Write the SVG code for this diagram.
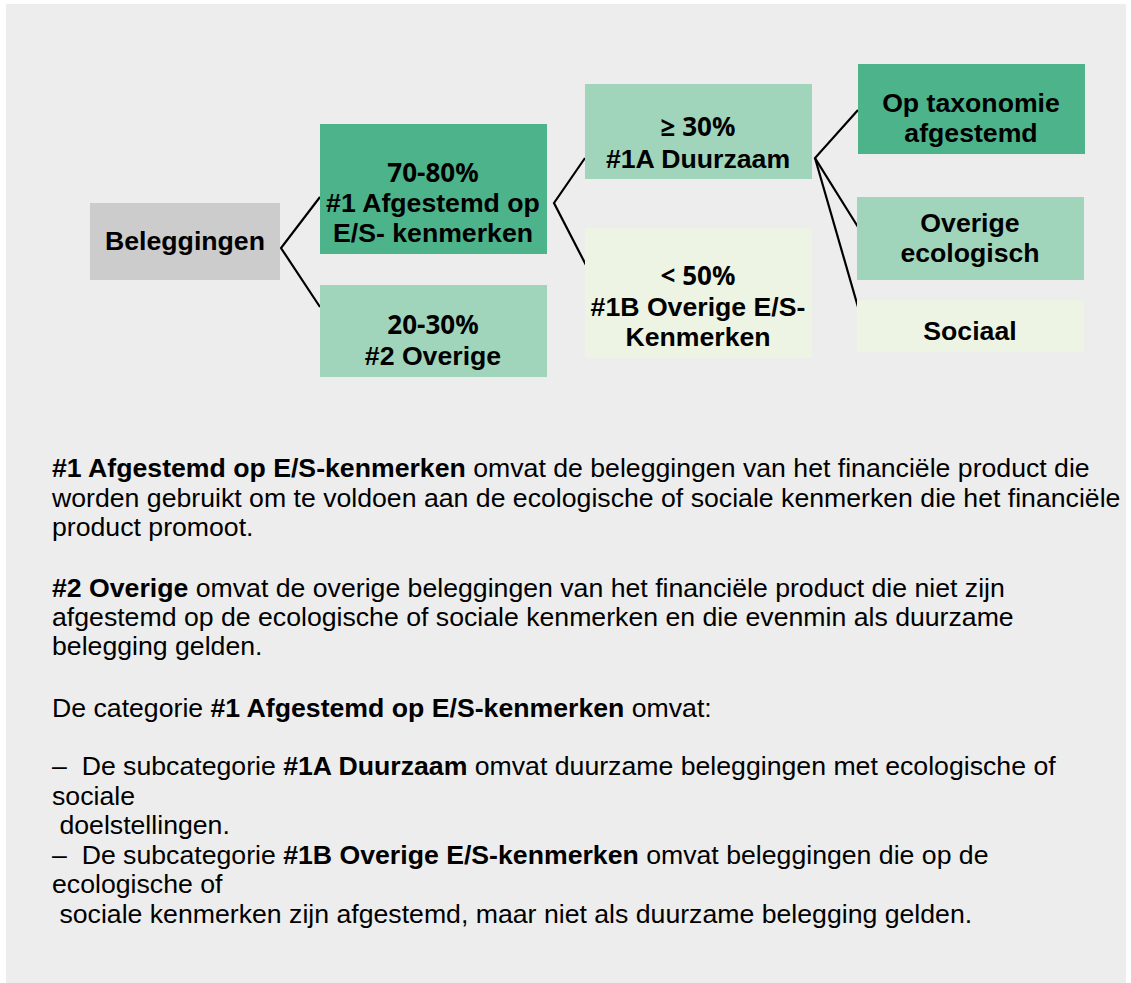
<svg xmlns="http://www.w3.org/2000/svg" width="1131" height="983" viewBox="0 0 1131 983">
<style>
.bx{font-family:"Liberation Sans",Arial,sans-serif;font-weight:bold;font-size:26.67px;fill:#000;text-anchor:middle}
.pc{font-family:"Noto Sans","Open Sans",sans-serif;font-weight:bold;font-size:26px;fill:#000;text-anchor:middle}
.tx{font-family:"Liberation Sans",Arial,sans-serif;font-size:26.67px;fill:#000;white-space:pre}
.b{font-weight:bold}
.dk{fill:#4cb38a}
.md{fill:#a0d5bb}
.lt{fill:#edf4e4}
.cn{stroke:#000;stroke-width:2.2;fill:none;stroke-linejoin:miter}
</style>
<rect x="6" y="4" width="1120" height="979" fill="#ededed"/>
<g id="connectors">
<polyline class="cn" points="320,197 281,248 320,307"/>
<polyline class="cn" points="585,158 554,203 587,267"/>
<polyline class="cn" points="858,110 815,158 858,227"/>
<line class="cn" x1="815" y1="158" x2="858" y2="307"/>
</g>
<g id="beleggingen">
<rect x="90" y="203" width="190" height="77" fill="#cccccc"/>
<text class="bx" x="185" y="250">Beleggingen</text>
</g>
<g id="afgestemd">
<rect class="dk" x="320" y="124" width="227" height="130"/>
<text class="pc" x="433" y="182">70-80%</text>
<text class="bx" x="433" y="212">#1 Afgestemd op</text>
<text class="bx" x="433" y="242">E/S- kenmerken</text>
</g>
<g id="overige">
<rect class="md" x="320" y="285" width="227" height="92"/>
<text class="pc" x="433" y="334">20-30%</text>
<text class="bx" x="433" y="365">#2 Overige</text>
</g>
<g id="duurzaam">
<rect class="md" x="585" y="84" width="227" height="95"/>
<text class="pc" x="698" y="136">≥ 30%</text>
<text class="bx" x="698" y="168">#1A Duurzaam</text>
</g>
<g id="overige-es">
<rect class="lt" x="585" y="228" width="227" height="130"/>
<text class="pc" x="698" y="285">&lt; 50%</text>
<text class="bx" x="698" y="316">#1B Overige E/S-</text>
<text class="bx" x="698" y="346">Kenmerken</text>
</g>
<g id="taxonomie">
<rect class="dk" x="858" y="64" width="227" height="90"/>
<text class="bx" x="971" y="112">Op taxonomie</text>
<text class="bx" x="971" y="142">afgestemd</text>
</g>
<g id="ecologisch">
<rect class="md" x="857" y="197" width="227" height="83"/>
<text class="bx" x="970" y="232">Overige</text>
<text class="bx" x="970" y="262">ecologisch</text>
</g>
<g id="sociaal">
<rect class="lt" x="857" y="300" width="227" height="52"/>
<text class="bx" x="970" y="340">Sociaal</text>
</g>
<g id="uitleg">
<text class="tx" x="52" y="477"><tspan class="b">#1 Afgestemd op E/S-kenmerken</tspan> omvat de beleggingen van het financiële product die</text>
<text class="tx" x="52" y="507">worden gebruikt om te voldoen aan de ecologische of sociale kenmerken die het financiële</text>
<text class="tx" x="52" y="536">product promoot.</text>
<text class="tx" x="52" y="597"><tspan class="b">#2 Overige</tspan> omvat de overige beleggingen van het financiële product die niet zijn</text>
<text class="tx" x="52" y="626">afgestemd op de ecologische of sociale kenmerken en die evenmin als duurzame</text>
<text class="tx" x="52" y="655">belegging gelden.</text>
<text class="tx" x="52" y="717">De categorie <tspan class="b">#1 Afgestemd op E/S-kenmerken</tspan> omvat:</text>
<text class="tx" x="52" y="775">–  De subcategorie <tspan class="b">#1A Duurzaam</tspan> omvat duurzame beleggingen met ecologische of</text>
<text class="tx" x="52" y="805">sociale</text>
<text class="tx" x="52" y="834"> doelstellingen.</text>
<text class="tx" x="52" y="864">–  De subcategorie <tspan class="b">#1B Overige E/S-kenmerken</tspan> omvat beleggingen die op de</text>
<text class="tx" x="52" y="893">ecologische of</text>
<text class="tx" x="52" y="923"> sociale kenmerken zijn afgestemd, maar niet als duurzame belegging gelden.</text>
</g>
</svg>
